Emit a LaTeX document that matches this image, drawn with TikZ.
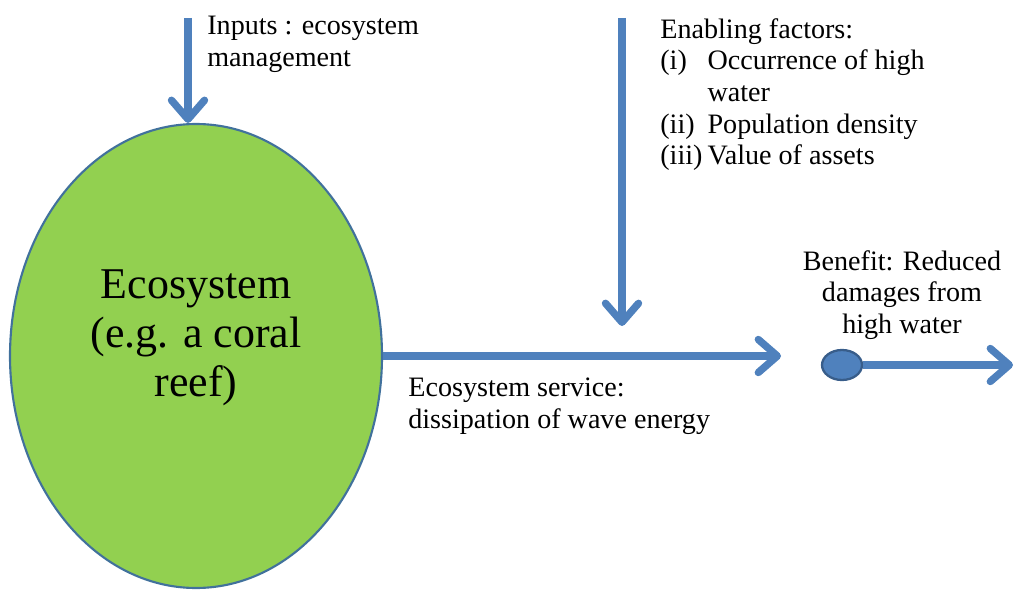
\documentclass[tikz,border=0pt]{standalone}
\usepackage{fontspec}
\setmainfont{Liberation Serif}
\usetikzlibrary{arrows.meta,shapes.geometric}

\definecolor{flowblue}{HTML}{4F81BD}
\definecolor{rimblue}{HTML}{41719C}
\definecolor{dotrim}{HTML}{385D8A}
\definecolor{reefgreen}{HTML}{92D050}

\newcommand{\factno}[1]{\makebox[1.68em][l]{#1}}

\tikzset{
	flow/.style={draw=flowblue, line width=4.2pt,
		-{Straight Barb[length=3.8mm,width=6.6mm,line cap=round,line join=round]}},
	bodytext/.style={inner sep=0pt, align=left, font=\fontsize{16}{18}\selectfont},
	bigtext/.style={inner sep=0pt, align=center, font=\fontsize{25}{28}\selectfont},
}

\begin{document}
\begin{tikzpicture}[x=0.2mm, y=-0.2mm]
	\useasboundingbox (0,0) rectangle (1015,590);
	% the ecosystem
	\node[ellipse, draw=rimblue, fill=reefgreen, line width=1.2pt,
		minimum width=372*0.2mm, minimum height=464*0.2mm] (eco) at (196,356) {};
	\node[bigtext] (ecotext) at (196,338) {Ecosystem\\(e.g. a coral\\reef)};
	
	% inputs
	\coordinate (intop) at (188,18);
	\draw[flow] (intop) -- (intop |- eco.north);
	\node[bodytext, anchor=north west] (inputs) at (207,16) {Inputs : ecosystem\\management};
	
	% enabling factors
	\coordinate (entop) at (622,18);
	\coordinate (enbot) at (622,326);
	\draw[flow] (entop) -- (enbot);
	\node[bodytext, anchor=north west] (enabling) at (660,18)
		{Enabling factors:\\
		 \factno{(i)}Occurrence of high\\
		 \factno{}water\\
		 \factno{(ii)}Population density\\
		 \factno{(iii)}Value of assets};
	
	% service
	\coordinate (svend) at (781,356);
	\draw[flow] (eco.east) -- (svend);
	\node[bodytext, anchor=north west] (service) at (408,378)
		{Ecosystem service:\\dissipation of wave energy};
	
	% benefit
	\node[ellipse, draw=dotrim, fill=flowblue, line width=1.3pt,
		minimum width=40*0.2mm, minimum height=30*0.2mm] (ben) at (842,365) {};
	\coordinate (outend) at (1013,365);
	\draw[flow] (ben.east) -- (outend);
	\node[bodytext, align=center, anchor=north] (bentext) at (902,250)
		{Benefit: Reduced\\damages from\\high water};
\end{tikzpicture}
\end{document}
